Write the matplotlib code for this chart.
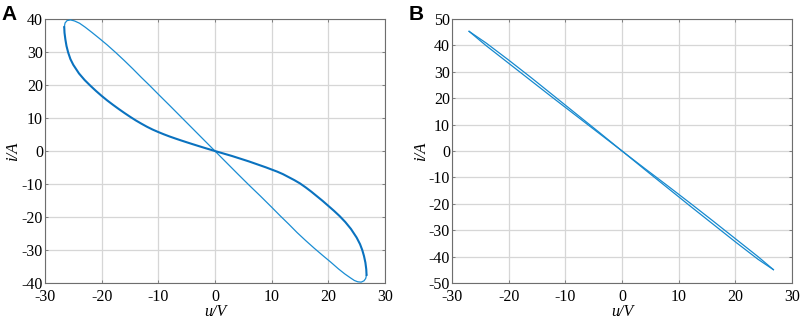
import numpy as np
import matplotlib
matplotlib.use("Agg")
import matplotlib.pyplot as plt

plt.rcParams['font.family'] = ['Liberation Serif', 'DejaVu Serif']
plt.rcParams['axes.unicode_minus'] = False

# panel A - pinched loop, thick branch (through origin, flatter)
uA_thick = [-26.6, -26.55, -26.4, -26.2, -25.9, -25.5, -25.0, -24.0, -23.0, -22.0, -21.0,
            -20.0, -19.0, -18.0, -17.0, -16.0, -15.0, -14.0, -13.0, -12.0, -11.0, -10.0,
            -9.0, -8.0, -7.0, -6.0, -5.0, -4.0, -3.0, -2.0, -1.0, 0.0,
            1.0, 2.0, 3.0, 4.0, 5.0, 6.0, 7.0, 8.0, 9.0, 10.0, 11.0, 12.0, 13.0, 14.0,
            15.0, 16.0, 17.0, 18.0, 19.0, 20.0, 21.0, 22.0, 23.0, 24.0, 25.0, 25.6,
            26.0, 26.3, 26.55, 26.7, 26.75]
iA_thick = [37.5, 35.8, 33.8, 31.8, 29.8, 27.8, 26.1, 23.5, 21.5, 19.8, 18.2,
            16.7, 15.3, 14.0, 12.75, 11.55, 10.4, 9.3, 8.3, 7.35, 6.5, 5.75,
            5.05, 4.4, 3.8, 3.22, 2.66, 2.11, 1.57, 1.04, 0.52, 0.0,
            -0.5, -1.0, -1.5, -2.05, -2.6, -3.15, -3.75, -4.35, -4.95, -5.6, -6.25, -7.0, -7.9, -8.8,
            -9.8, -11.0, -12.3, -13.7, -15.1, -16.6, -18.1, -19.7, -21.5, -23.6, -26.2, -28.2,
            -30.0, -31.8, -33.8, -35.8, -37.5]
# thin branch, from bottom-right tip back round to top-left tip
uA_thin = [26.75, 26.6, 26.3, 25.8, 25.2, 24.6, 23.9, 22.9, 21.8, 20.4, 19.0, 17.5,
           16.0, 14.5, 13.0, 11.5, 10.0, 8.0, 6.0, 4.0, 2.0, 0.0, -2.0, -4.0, -6.0,
           -8.0, -10.0, -11.5, -13.0, -14.5, -16.0, -17.5, -19.0, -20.4, -21.7, -22.9,
           -23.9, -24.8, -25.5, -26.1, -26.45, -26.6]
iA_thin = [-37.5, -38.6, -39.3, -39.7, -39.6, -39.2, -38.4, -37.2, -35.7, -33.6, -31.6, -29.4,
           -27.1, -24.7, -22.1, -19.6, -17.0, -13.6, -10.3, -6.9, -3.45, 0.0, 3.45, 6.9, 10.35,
           13.8, 17.2, 19.8, 22.3, 24.9, 27.4, 29.8, 32.1, 34.1, 35.9, 37.5,
           38.7, 39.4, 39.7, 39.5, 38.8, 37.5]

# panel B - narrow pinched loop
uB = [-27.0, -24.0, -20.0, -16.0, -12.0, -8.0, -4.0, 0.0, 4.0, 8.0, 12.0, 16.0, 20.0, 24.0, 26.7]
iB_1 = [45.3, 40.9, 34.4, 27.7, 20.8, 13.9, 7.0, 0.0, -7.0, -13.9, -20.8, -27.6, -34.4, -41.0, -44.9]
iB_2 = [45.3, 39.9, 33.2, 26.5, 19.8, 13.2, 6.6, 0.0, -6.6, -13.1, -19.7, -26.4, -33.2, -40.0, -44.9]

grid_c = '#d6d6d6'

fig = plt.figure(figsize=(8.03, 3.21), dpi=100)
axA = fig.add_axes([0.056, 0.118, 0.4234, 0.823])
axB = fig.add_axes([0.563, 0.118, 0.4234, 0.823])

axA.plot(uA_thin, iA_thin, color='#1a8dd3', lw=0.9, zorder=3)
axA.plot(uA_thick, iA_thick, color='#0a72bf', lw=1.5, zorder=4)
axA.set_ylim(-40, 40)
axA.set_yticks(np.arange(-40, 41, 10))

axB.plot(uB, iB_1, color='#1689cf', lw=0.9, zorder=3)
axB.plot(uB, iB_2, color='#1689cf', lw=0.9, zorder=3)
axB.set_ylim(-50, 50)
axB.set_yticks(np.arange(-50, 51, 10))

for ax, letter in ((axA, 'A'), (axB, 'B')):
    ax.set_xlim(-30, 30)
    ax.set_xticks(np.arange(-30, 31, 10))
    ax.grid(True, color=grid_c, lw=0.9)
    ax.set_axisbelow(True)
    for s in ax.spines.values():
        s.set_color('#6e6e6e')
        s.set_linewidth(0.8)
    ax.tick_params(direction='in', length=2, width=0.6, color='#6e6e6e',
                   labelsize=11.5, top=True, right=True)
    ax.tick_params(axis='x', pad=4.5)
    ax.tick_params(axis='y', pad=1.5)
    ax.set_xlabel('u/V', fontstyle='italic', fontsize=11.5, labelpad=-1)
    ax.set_ylabel('i/A', fontstyle='italic', fontsize=12, labelpad=0)
    pos = ax.get_position()
    fig.text(pos.x0 - 0.054, 0.985, letter, fontfamily='Liberation Sans',
             fontweight='bold', fontsize=15, va='top', ha='left')

fig.savefig('out.png', dpi=100)
